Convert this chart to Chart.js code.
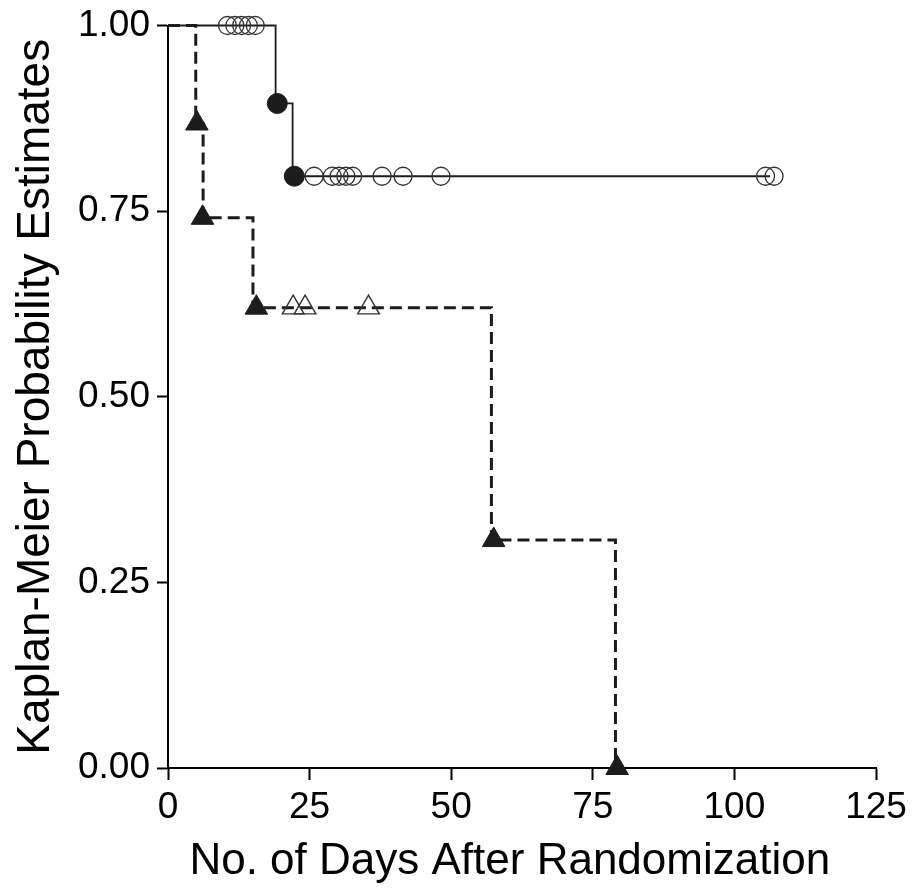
<!DOCTYPE html>
<html>
<head>
<meta charset="utf-8">
<title>Kaplan-Meier</title>
<script src="https://cdn.jsdelivr.net/npm/chart.js@4.4.1/dist/chart.umd.min.js"></script>
<style>
  html, body { margin: 0; padding: 0; background: #fff; }
  #wrap { width: 922px; height: 892px; }
</style>
</head>
<body>
<div id="wrap"><canvas id="kmChart" width="922" height="892"></canvas></div>
<script>
// axis labels / ticks
const xTitle = 'No. of Days After Randomization\u00a0\u00a0';
const yTitle = 'Kaplan-Meier Probability Estimates';
const xTicks = [0, 25, 50, 75, 100, 125];
const yTicks = [0, 0.25, 0.5, 0.75, 1];
const yTickLabels = ['0.00', '0.25', '0.50', '0.75', '1.00'];

// group A: solid line, circles
const stepDaysA = [0, 19, 22, 106.3];
const stepSurvA = [1.0, 0.895, 0.797, 0.797];
const eventDaysA = [19.3, 22.3];
const eventSurvA = [0.895, 0.797];
const censorDaysA = [10.5, 11.8, 13.0, 14.2, 15.4, 25.8, 29.0, 30.2, 31.4, 32.6, 37.8, 41.5, 48.2, 105.5, 107.0];
const censorSurvA = [1, 1, 1, 1, 1, 0.797, 0.797, 0.797, 0.797, 0.797, 0.797, 0.797, 0.797, 0.797, 0.797];

// group B: dashed line, triangles
const stepDaysB = [0, 4.9, 6.2, 15.0, 57.1, 79.0];
const stepSurvB = [1.0, 0.868, 0.741, 0.62, 0.307, 0];
const eventDaysB = [5.1, 6.1, 15.6, 57.5, 79.3];
const eventSurvB = [0.868, 0.741, 0.62, 0.307, 0];
const censorDaysB = [22.1, 24.2, 35.4];
const censorSurvB = [0.62, 0.62, 0.62];

const ink = '#1c1c1c';
const fontFam = "'Liberation Sans', Arial, sans-serif";

function pts(xs, ys) {
    return xs.map((x, i) => ({ x: x, y: ys[i] }));
}

const ctx = document.getElementById('kmChart');

const data = {
    datasets: [
        {
            label: 'A events',
            data: pts(eventDaysA, eventSurvA),
            showLine: false,
            pointStyle: 'circle',
            pointRadius: 10,
            pointBackgroundColor: ink,
            pointBorderColor: ink,
            pointBorderWidth: 1,
            order: 1,
            clip: false
        },
        {
            label: 'A censored',
            data: pts(censorDaysA, censorSurvA),
            showLine: false,
            pointStyle: 'circle',
            pointRadius: 9,
            pointBackgroundColor: 'rgba(0,0,0,0)',
            pointBorderColor: '#333',
            pointBorderWidth: 1.3,
            order: 1,
            clip: false
        },
        {
            label: 'B events',
            data: pts(eventDaysB, eventSurvB),
            showLine: false,
            pointStyle: 'triangle',
            pointRadius: 13,
            pointBackgroundColor: ink,
            pointBorderColor: ink,
            pointBorderWidth: 1,
            order: 1,
            clip: false
        },
        {
            label: 'B censored',
            data: pts(censorDaysB, censorSurvB),
            showLine: false,
            pointStyle: 'triangle',
            pointRadius: 12.5,
            pointBackgroundColor: 'rgba(0,0,0,0)',
            pointBorderColor: '#333',
            pointBorderWidth: 1.4,
            order: 1,
            clip: false
        },
        {
            label: 'A',
            data: pts(stepDaysA, stepSurvA),
            showLine: true,
            stepped: true,
            borderColor: ink,
            borderWidth: 1.8,
            pointRadius: 0,
            fill: false,
            order: 2,
            clip: false
        },
        {
            label: 'B',
            data: pts(stepDaysB, stepSurvB),
            showLine: true,
            stepped: true,
            borderColor: ink,
            borderWidth: 3,
            borderDash: [12, 6],
            pointRadius: 0,
            fill: false,
            order: 2,
            clip: false
        }
    ]
};

const config = {
    type: 'scatter',
    data: data,
    options: {
        responsive: false,
        animation: false,
        devicePixelRatio: 1,
        layout: { padding: { top: 24, right: 46, left: 0, bottom: 0 } },
        plugins: {
            legend: { display: false },
            tooltip: { enabled: false }
        },
        scales: {
            x: {
                type: 'linear',
                min: 0,
                max: 125,
                afterBuildTicks: (scale) => { scale.ticks = xTicks.map(v => ({ value: v })); },
                afterFit: (scale) => { scale.height = 124; },
                ticks: {
                    color: '#000',
                    padding: 9,
                    font: { family: fontFam, size: 37, lineHeight: 1 },
                    maxRotation: 0,
                    autoSkip: false
                },
                grid: {
                    drawOnChartArea: false,
                    drawTicks: true,
                    tickLength: 12,
                    tickWidth: 2,
                    tickColor: '#000'
                },
                border: { display: true, color: '#000', width: 2 },
                title: {
                    display: true,
                    text: xTitle,
                    color: '#000',
                    font: { family: fontFam, size: 44, lineHeight: 1.2 },
                    padding: { top: 0, bottom: 4 }
                }
            },
            y: {
                type: 'linear',
                min: 0,
                max: 1,
                afterBuildTicks: (scale) => { scale.ticks = yTicks.map(v => ({ value: v })); },
                afterFit: (scale) => { scale.width = 168; },
                ticks: {
                    color: '#000',
                    padding: 7,
                    font: { family: fontFam, size: 37, lineHeight: 1 },
                    callback: (v) => yTickLabels[yTicks.indexOf(v)]
                },
                grid: {
                    drawOnChartArea: false,
                    drawTicks: true,
                    tickLength: 11,
                    tickWidth: 2,
                    tickColor: '#000'
                },
                border: { display: true, color: '#000', width: 2 },
                title: {
                    display: true,
                    text: yTitle,
                    color: '#000',
                    font: { family: fontFam, size: 46, lineHeight: 1.2 },
                    padding: { top: 9, bottom: 0 }
                }
            }
        }
    }
};

const chart = new Chart(ctx, config);
</script>
</body>
</html>
